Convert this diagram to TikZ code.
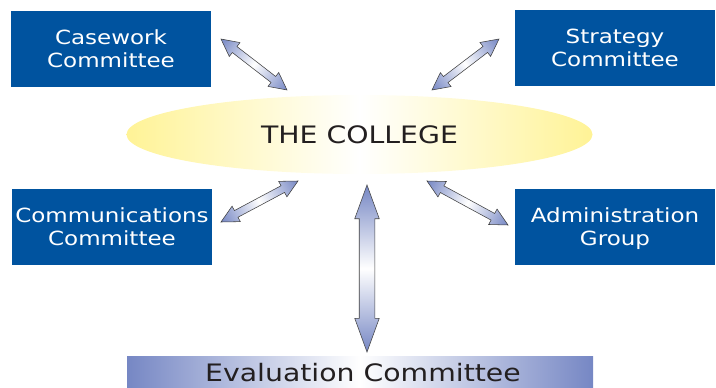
\documentclass[tikz,border=0pt]{standalone}
\usepackage{fontspec}
\setmainfont{DejaVu Sans}[FakeStretch=1.18]
\usepackage{tikz}
\usetikzlibrary{shapes.geometric}
\usetikzlibrary{shapes.arrows}
\usetikzlibrary{calc}

\definecolor{boxblue}{RGB}{0,83,159}
\definecolor{arrowblue}{RGB}{118,135,196}
\definecolor{collegeyellow}{RGB}{255,243,150}
\definecolor{inkgrey}{RGB}{35,31,32}

% fat two-headed arrow laid from #1 to #2, extra options in #3
\newcommand{\twoway}[3]{%
  \path let \p1=($(#2)-(#1)$) in \pgfextra{%
    \pgfmathsetmacro{\wayangle}{atan2(\y1,\x1)}%
    \pgfmathsetmacro{\waylength}{veclen(\x1,\y1)}%
    \xdef\wayangle{\wayangle}\xdef\waylength{\waylength}};
  \path[transform canvas={shift={($(#1)!0.5!(#2)$)}, rotate=\wayangle}]
    node[twoway, minimum height=\waylength pt, #3] {};}

\begin{document}
\begin{tikzpicture}[x=1pt,y=-1pt,
  committee/.style={fill=boxblue, text=white, align=center, minimum width=200pt,
    minimum height=76pt, inner sep=0pt, text depth=0pt,
    font=\fontsize{19.5}{23}\selectfont},
  twoway/.style={double arrow, draw=black!75, line width=0.55pt, inner xsep=0pt,
    inner ysep=3.5pt, left color=arrowblue, right color=arrowblue, middle color=white,
    double arrow head extend=5pt, double arrow tip angle=54},
  bigarrow/.style={inner ysep=7.5pt, double arrow head extend=4.5pt,
    double arrow tip angle=40}]
  \useasboundingbox (0,0) rectangle (716,388);

  % the college in the middle
  \node[ellipse, left color=collegeyellow, right color=collegeyellow, middle color=white,
    minimum width=466pt, minimum height=79pt, text=inkgrey,
    font=\fontsize{24}{28}\selectfont] (college) at (359.5,134.5) {THE COLLEGE};

  % committees round it
  \node[committee] (casework) at (111,49) {Casework\\Committee};
  \node[committee] (strategy) at (615,48) {Strategy\\Committee};
  \node[committee] (comms) at (112,227) {Communications\\Committee};
  \node[committee] (admin) at (615,227) {Administration\\Group};

  % evaluation bar along the bottom
  \path[left color=arrowblue, right color=arrowblue, middle color=white]
    (127,356) rectangle (593,388);
  \node[text=inkgrey, font=\fontsize{24}{28}\selectfont] (evaluation) at (363,373) {Evaluation Committee};

  % arrow ends
  \coordinate (cw1) at (221,39);  \coordinate (cw2) at (287,90);
  \coordinate (st1) at (499,39);  \coordinate (st2) at (432,90);
  \coordinate (co1) at (221,222); \coordinate (co2) at (298,181);
  \coordinate (ad1) at (427,181); \coordinate (ad2) at (508,225);
  \coordinate (ev1) at (367,185); \coordinate (ev2) at (367,352);

  \twoway{cw1}{cw2}{}
  \twoway{st1}{st2}{}
  \twoway{co1}{co2}{}
  \twoway{ad1}{ad2}{}
  \twoway{ev1}{ev2}{bigarrow}
\end{tikzpicture}
\end{document}
